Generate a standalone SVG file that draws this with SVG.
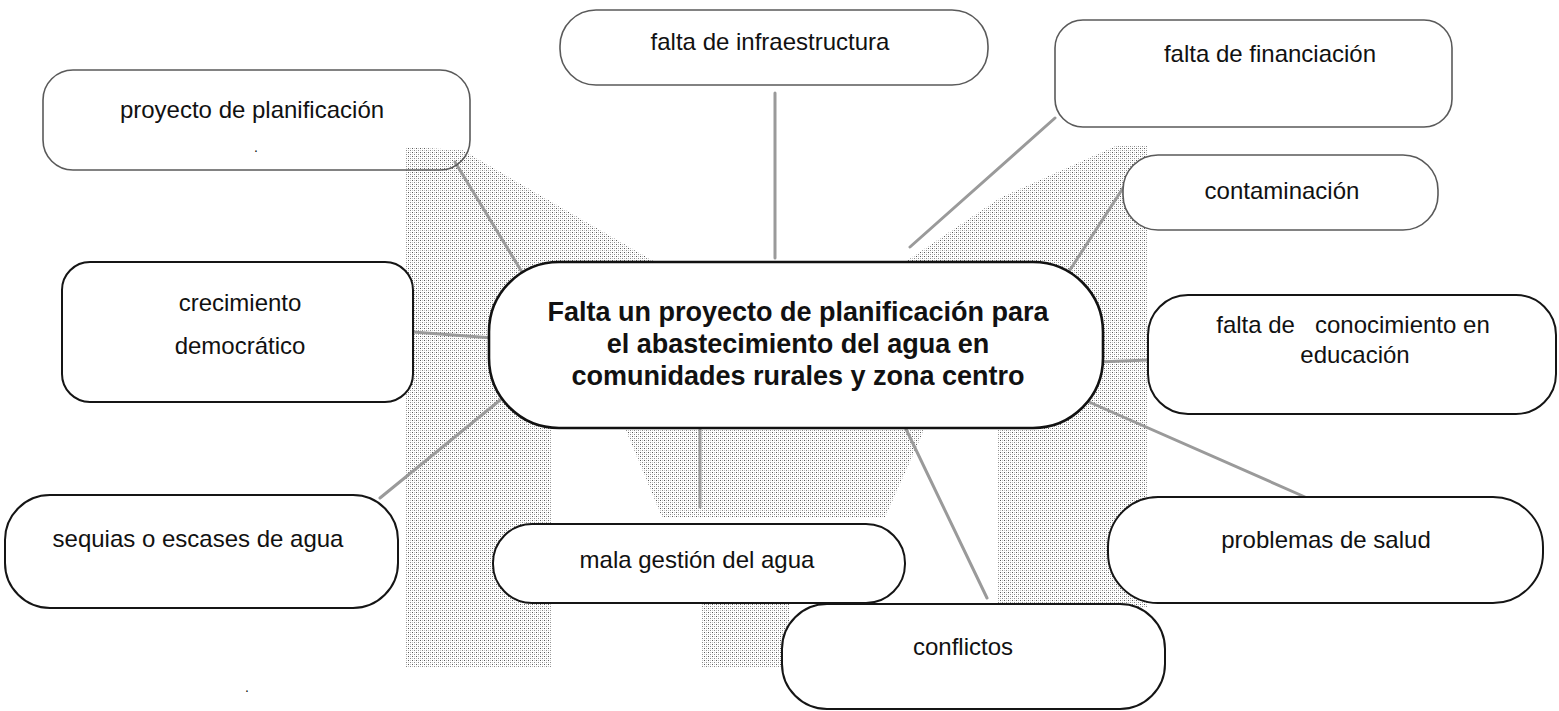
<svg xmlns="http://www.w3.org/2000/svg" width="1559" height="711" viewBox="0 0 1559 711">
  <defs>
    <pattern id="ht" width="4" height="4" patternUnits="userSpaceOnUse">
      <rect width="4" height="4" fill="#ffffff"/>
      <rect x="0" y="0" width="1" height="1" fill="#5a5a5a"/>
      <rect x="2" y="2" width="1" height="1" fill="#8a8a8a"/>
      <rect x="2" y="0" width="1" height="1" fill="#c4c4c4"/>
      <rect x="0" y="2" width="1" height="1" fill="#c4c4c4"/>
    </pattern>
  </defs>
  <style>
    .bg { fill: #ffffff; }
    .shade { fill: url(#ht); stroke: none; }
    .box { fill: #ffffff; stroke: #151515; stroke-width: 2; }
    .boxl { fill: #ffffff; stroke: #5a5a5a; stroke-width: 1.6; }
    .main { fill: #ffffff; stroke: #111111; stroke-width: 2.6; }
    .con { stroke: #9a9a9a; stroke-width: 3; fill: none; stroke-linecap: round; }
    .t { font-family: "Liberation Sans", Arial, sans-serif; font-size: 24px; fill: #111111; text-anchor: middle; white-space: pre; }
    .tb { font-family: "Liberation Sans", Arial, sans-serif; font-size: 27px; font-weight: bold; fill: #111111; text-anchor: middle; }
  </style>
  <rect class="bg" x="0" y="0" width="1559" height="711"/>

  <g id="shading">
    <polygon class="shade" points="405,147 462,150 655,262 560,262 552,430 552,667 405,667"/>
    <polygon class="shade" points="905,262 1000,198 1118,145 1147,145 1147,608 998,608 998,420 905,420"/>
    <polygon class="shade" points="625,428 925,428 885,517 662,517"/>
    <polygon class="shade" points="702,603 790,603 790,668 702,668"/>
  </g>

  <g id="connectors">
    <line class="con" x1="455" y1="162" x2="528" y2="282"/>
    <line class="con" x1="775" y1="93" x2="775" y2="258"/>
    <line class="con" x1="1055" y1="118" x2="910" y2="247"/>
    <line class="con" x1="1125" y1="185" x2="1068" y2="273"/>
    <line class="con" x1="1098" y1="362" x2="1148" y2="360"/>
    <line class="con" x1="1080" y1="398" x2="1305" y2="497"/>
    <line class="con" x1="905" y1="427" x2="987" y2="598"/>
    <line class="con" x1="700" y1="427" x2="700" y2="507"/>
    <line class="con" x1="380" y1="498" x2="510" y2="392"/>
    <line class="con" x1="413" y1="332" x2="493" y2="338"/>
  </g>

  <g id="node-proyecto">
    <rect x="43" y="70" width="427" height="100" rx="30" ry="30" fill="none" stroke="#5a5a5a" stroke-width="1.6"/>
    <text class="t" x="252" y="118">proyecto de planificación</text>
    <text class="t" x="256" y="152" style="font-size:14px">.</text>
  </g>

  <g id="node-infraestructura">
    <rect class="boxl" x="560" y="10" width="428" height="75" rx="36" ry="36"/>
    <text class="t" x="770" y="50">falta de infraestructura</text>
  </g>

  <g id="node-financiacion">
    <rect class="boxl" x="1055" y="20" width="397" height="107" rx="28" ry="28"/>
    <text class="t" x="1270" y="62">falta de financiación</text>
  </g>

  <g id="node-contaminacion">
    <rect class="boxl" x="1123" y="155" width="315" height="75" rx="35" ry="35"/>
    <text class="t" x="1282" y="199">contaminación</text>
  </g>

  <g id="node-crecimiento">
    <rect class="box" x="62" y="262" width="351" height="140" rx="28" ry="28"/>
    <text class="t" x="240" y="311">crecimiento</text>
    <text class="t" x="240" y="354">democrático</text>
  </g>

  <g id="node-educacion">
    <rect class="box" x="1148" y="295" width="408" height="119" rx="40" ry="40"/>
    <text class="t" x="1353" y="333">falta de   conocimiento en</text>
    <text class="t" x="1355" y="363">educación</text>
  </g>

  <g id="node-sequias">
    <rect class="box" x="5" y="495" width="393" height="113" rx="45" ry="45"/>
    <text class="t" x="198" y="547">sequias o escases de agua</text>
  </g>

  <g id="node-mala">
    <rect class="box" x="493" y="524" width="412" height="79" rx="39" ry="39"/>
    <text class="t" x="697" y="568">mala gestión del agua</text>
  </g>

  <g id="node-conflictos">
    <rect class="box" x="782" y="604" width="383" height="105" rx="45" ry="45"/>
    <text class="t" x="963" y="655">conflictos</text>
  </g>

  <g id="node-salud">
    <rect class="box" x="1108" y="497" width="435" height="106" rx="50" ry="50"/>
    <text class="t" x="1326" y="548">problemas de salud</text>
  </g>

  <g id="node-central">
    <rect class="main" x="489" y="262" width="614" height="166" rx="70" ry="70"/>
    <text class="tb" x="798" y="321">Falta un proyecto de planificación para</text>
    <text class="tb" x="798" y="353">el abastecimiento del agua en</text>
    <text class="tb" x="798" y="385">comunidades rurales y zona centro</text>
  </g>

  <g id="marks">
    <text class="t" x="247" y="692" style="font-size:14px">.</text>
  </g>
</svg>
